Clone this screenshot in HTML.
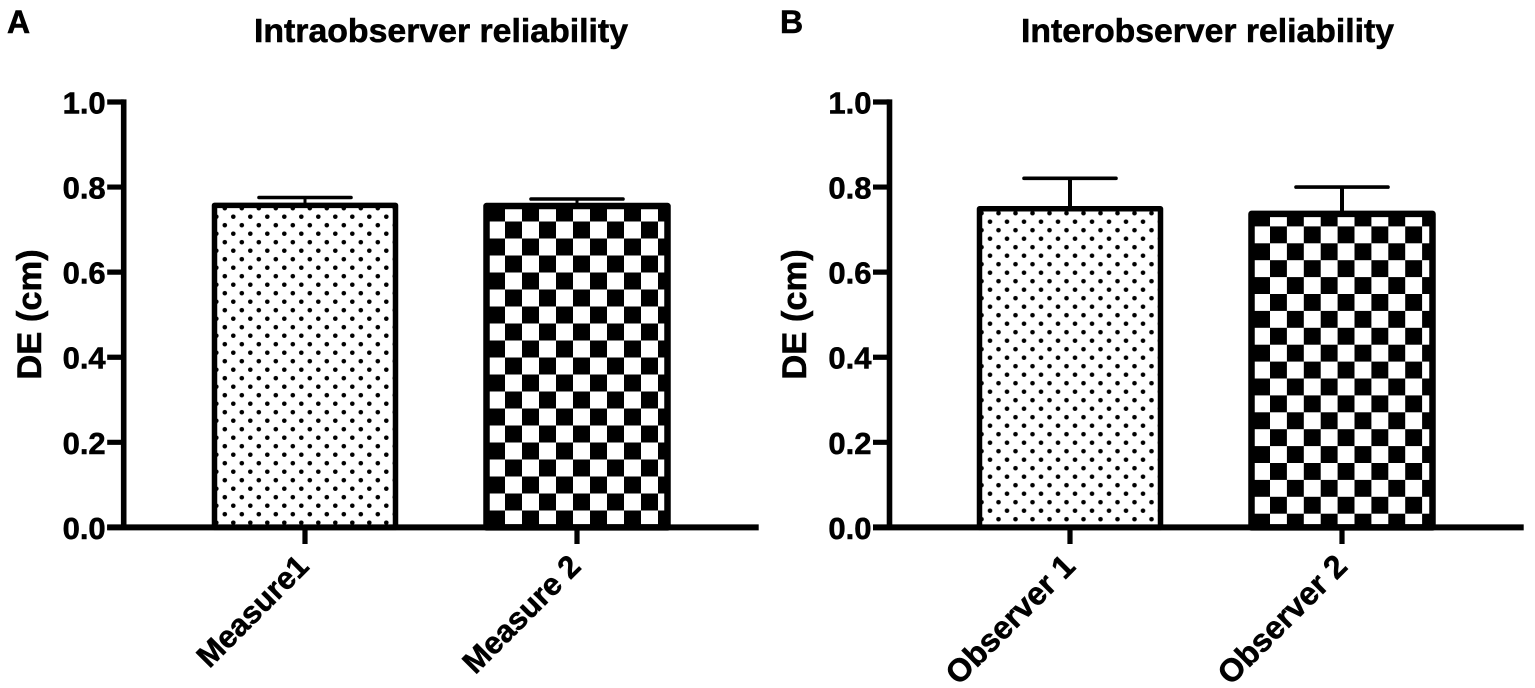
<!DOCTYPE html>
<html lang="en">
<head>
<meta charset="utf-8">
<title>DE reliability charts</title>
<style>
html,body{margin:0;padding:0;background:#fff;}
svg{display:block;filter:blur(.35px);}
text{font-family:"Liberation Sans",Arial,sans-serif;font-weight:bold;fill:#000;stroke:#000;stroke-width:.55px;}
</style>
</head>
<body>
<svg id="fig" width="1535" height="688" viewBox="0 0 1535 688" xmlns="http://www.w3.org/2000/svg">
  <defs>
    <pattern id="dotsA" patternUnits="userSpaceOnUse" x="229.05" y="212.45" width="17" height="17">
      <circle cx="4.25" cy="4.25" r="2.3" fill="#000"/><circle cx="12.75" cy="12.75" r="2.3" fill="#000"/>
    </pattern>
    <pattern id="checkA" patternUnits="userSpaceOnUse" x="505" y="221.5" width="34" height="34">
      <rect x="0" y="0" width="34" height="34" fill="#fff"/>
      <rect x="0" y="0" width="17" height="17" fill="#000"/><rect x="17" y="17" width="17" height="17" fill="#000"/>
    </pattern>
    <pattern id="dotsB" patternUnits="userSpaceOnUse" x="985.75" y="217.45" width="17" height="17">
      <circle cx="4.25" cy="4.25" r="2.3" fill="#000"/><circle cx="12.75" cy="12.75" r="2.3" fill="#000"/>
    </pattern>
    <pattern id="checkB" patternUnits="userSpaceOnUse" x="1270" y="226.4" width="33.8" height="33.8">
      <rect x="0" y="0" width="33.8" height="33.8" fill="#fff"/>
      <rect x="0" y="0" width="16.9" height="16.9" fill="#000"/><rect x="16.9" y="16.9" width="16.9" height="16.9" fill="#000"/>
    </pattern>
  </defs>
  <rect x="0" y="0" width="1535" height="688" fill="#fff"/>
  <text x="7" y="33" font-size="32">A</text>
  <text x="780" y="33" font-size="32">B</text>
  <text x="254" y="42" font-size="33" textLength="374" lengthAdjust="spacingAndGlyphs">Intraobserver reliability</text>
  <text x="1021" y="42" font-size="33" textLength="373" lengthAdjust="spacingAndGlyphs">Interobserver reliability</text>
</svg>
<script>
const yTickValues = [0, 0.2, 0.4, 0.6, 0.8, 1.0];
const yTickLabels = ["0.0", "0.2", "0.4", "0.6", "0.8", "1.0"];
const yAxisLabel = "DE (cm)";

const categoriesA = ["Measure1", "Measure 2"];
const valuesA = [0.757, 0.7555];
const errorsA = [0.0185, 0.0165];

const categoriesB = ["Observer 1", "Observer 2"];
const valuesB = [0.749, 0.737];
const errorsB = [0.0716, 0.063];

const NS = "http://www.w3.org/2000/svg";
const svg = document.getElementById("fig");

function make(tag, attrs, parent) {
  const el = document.createElementNS(NS, tag);
  for (const k in attrs) el.setAttribute(k, attrs[k]);
  (parent || svg).appendChild(el);
  return el;
}

function drawPanel(p) {
  const group = make("g", {});
  
  

  const yScale = v => 527.4 - v * 425.4;
  const xScale = i => p.firstCenter + i * 272;

  // error bars (behind the bars)
  p.values.forEach((v, i) => {
    const cx = xScale(i);
    const top = yScale(v + p.errors[i]);
    const stem = make("line", {x1: cx, x2: cx, y1: top, y2: yScale(v), stroke: "#000", "stroke-width": p.stem}, group);
    
    
    const cap = make("line", {x1: cx - 46, x2: cx + 46, y1: top, y2: top, stroke: "#000", "stroke-width": 3.6, "stroke-linecap": "round"}, group);
    
    
  });

  // bars
  p.values.forEach((v, i) => {
    const cx = xScale(i);
    const sw = i === 0 ? 5.5 : 6.5;
    const w = 181;
    const bar = make("path", {
      d: "M" + (cx - w / 2) + " " + yScale(0) + "V" + yScale(v) + "H" + (cx + w / 2) + "V" + yScale(0) + "Z",
      fill: "url(#" + p.fills[i] + ")", stroke: "#000", "stroke-width": sw, "stroke-linejoin": "round"
    }, group);
    
    
  });

  // y axis
  const yAxis = make("line", {x1: p.axisX, x2: p.axisX, y1: yScale(1) - 2.6, y2: yScale(0), stroke: "#000", "stroke-width": 5.6}, group);
  
  

  // x axis
  const xAxis = make("line", {x1: p.axisX - 16.5, x2: p.axisRight, y1: yScale(0), y2: yScale(0), stroke: "#000", "stroke-width": 6}, group);
  
  

  // y ticks and labels
  yTickValues.forEach((t, i) => {
    const y = yScale(t);
    const tick = make("line", {x1: p.axisX - 16.5, x2: p.axisX, y1: y, y2: y, stroke: "#000", "stroke-width": 5.2}, group);
    
    
    const label = make("text", {x: p.axisX - 18, y: y + 11.5, "font-size": 31, "text-anchor": "end"}, group);
    label.textContent = yTickLabels[i];
    
    
  });

  // y axis title
  const title = make("text", {
    x: 0, y: 0, "font-size": 34.5, "text-anchor": "middle",
    transform: "translate(" + p.titleX + " 314.5) rotate(-90)"
  }, group);
  title.textContent = yAxisLabel;
  
  

  // x ticks and category labels
  p.categories.forEach((c, i) => {
    const cx = xScale(i);
    const tick = make("line", {x1: cx, x2: cx, y1: yScale(0), y2: 544, stroke: "#000", "stroke-width": 5.2}, group);
    
    
    const label = make("text", {
      x: 0, y: 0, "font-size": p.catSize, "text-anchor": "end",
      transform: "translate(" + (cx + p.catDx) + " 568) rotate(-45)"
    }, group);
    label.textContent = c;
    
    
  });
}

drawPanel({
  id: "a", categories: categoriesA, values: valuesA, errors: errorsA,
  firstCenter: 305, axisX: 123.7, axisRight: 758.7, titleX: 41,
  fills: ["dotsA", "checkA"], stem: 3, catSize: 31, catDx: 5.5
});
drawPanel({
  id: "b", categories: categoriesB, values: valuesB, errors: errorsB,
  firstCenter: 1070, axisX: 889.5, axisRight: 1523.7, titleX: 806,
  fills: ["dotsB", "checkB"], stem: 4, catSize: 32, catDx: 7
});
</script>
</body>
</html>
